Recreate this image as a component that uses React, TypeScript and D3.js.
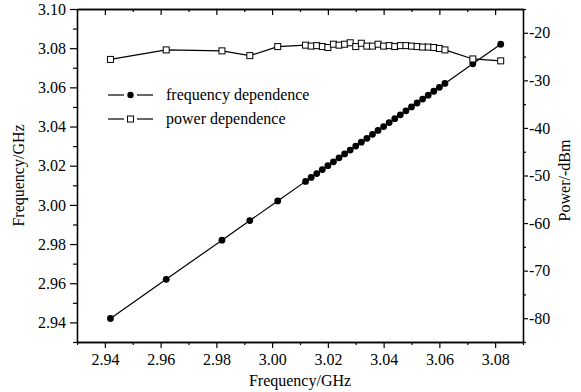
import React, { useRef, useEffect } from 'react';
import * as d3 from 'd3';

// input frequency (GHz) for both measurements
const inputFreq = [
  2.942, 2.962, 2.982, 2.992, 3.002,
  3.012, 3.014, 3.016, 3.018, 3.020, 3.022, 3.024, 3.026, 3.028, 3.030,
  3.032, 3.034, 3.036, 3.038, 3.040, 3.042, 3.044, 3.046, 3.048, 3.050,
  3.052, 3.054, 3.056, 3.058, 3.060, 3.062,
  3.072, 3.082,
];

// output frequency (GHz)
const outputFreq = [
  2.942, 2.962, 2.982, 2.992, 3.002,
  3.012, 3.014, 3.016, 3.018, 3.020, 3.022, 3.024, 3.026, 3.028, 3.030,
  3.032, 3.034, 3.036, 3.038, 3.040, 3.042, 3.044, 3.046, 3.048, 3.050,
  3.052, 3.054, 3.056, 3.058, 3.060, 3.062,
  3.072, 3.082,
];

// output power (dBm)
const outputPower = [
  -25.6, -23.6, -23.8, -24.8, -22.9,
  -22.6, -22.8, -22.7, -22.9, -23.1, -22.4, -22.6, -22.4, -22.1, -22.9,
  -22.2, -22.8, -22.8, -22.4, -22.8, -22.7, -22.9, -22.7, -22.7, -22.8,
  -22.9, -23.0, -23.0, -23.1, -23.3, -23.6,
  -25.5, -25.9,
];

const xTicks = [2.94, 2.96, 2.98, 3.0, 3.02, 3.04, 3.06, 3.08];
const yLeftTicks = [2.94, 2.96, 2.98, 3.0, 3.02, 3.04, 3.06, 3.08, 3.1];
const yRightTicks = [-80, -70, -60, -50, -40, -30, -20];
const legendLabels = ['frequency dependence', 'power dependence'];

const W = 581;
const H = 392;
const margin = { top: 9, right: 58, bottom: 50, left: 77 };
const FONT = '"Liberation Serif", "Times New Roman", serif';

const App: React.FC = () => {
  const svgRef = useRef<SVGSVGElement | null>(null);

  useEffect(() => {
    const svg = d3.select(svgRef.current);
    svg.selectAll('*').remove();

    const iw = W - margin.left - margin.right;
    const ih = H - margin.top - margin.bottom;
    const g = svg.append('g').attr('transform', `translate(${margin.left},${margin.top})`);

    const x = d3.scaleLinear().domain([2.93, 3.09]).range([0, iw]);
    const yL = d3.scaleLinear().domain([2.93, 3.10]).range([ih, 0]);
    const yR = d3.scaleLinear().domain([-85, -15]).range([ih, 0]);

    const xMinor = d3.range(2.93, 3.0901, 0.01).map(v => +v.toFixed(2)).filter(v => !xTicks.some(t => Math.abs(t - v) < 1e-6));
    const yMinor = d3.range(2.93, 3.1001, 0.01).map(v => +v.toFixed(2)).filter(v => !yLeftTicks.some(t => Math.abs(t - v) < 1e-6));
    const rMinor = d3.range(-85, -14, 5).filter(v => !yRightTicks.includes(v));

    const styleAxis = (sel: any) => {
      sel.attr('font-family', FONT).attr('font-size', 16);
      sel.select('.domain').attr('stroke', '#000').attr('stroke-width', 1.3);
      sel.selectAll('.tick line').attr('stroke', '#000').attr('stroke-width', 1.2);
      sel.selectAll('text').style('font-family', FONT).attr('font-size', 16).attr('fill', '#000');
    };

    // bottom
    g.append('g').attr('transform', `translate(0,${ih})`)
      .call(d3.axisBottom(x).tickValues(xTicks).tickSize(6).tickPadding(6).tickSizeOuter(0).tickFormat(d3.format('.2f')))
      .call(styleAxis);
    g.append('g').attr('transform', `translate(0,${ih})`)
      .call(d3.axisBottom(x).tickValues(xMinor).tickSize(3).tickSizeOuter(0).tickFormat(() => ''))
      .call(styleAxis);
    // top (inward)
    g.append('g')
      .call(d3.axisTop(x).tickValues(xTicks).tickSize(-6).tickSizeOuter(0).tickFormat(() => ''))
      .call(styleAxis);
    g.append('g')
      .call(d3.axisTop(x).tickValues(xMinor).tickSize(-3).tickSizeOuter(0).tickFormat(() => ''))
      .call(styleAxis);
    // left
    g.append('g')
      .call(d3.axisLeft(yL).tickValues(yLeftTicks).tickSize(7).tickPadding(4).tickSizeOuter(0).tickFormat(d3.format('.2f')))
      .call(styleAxis);
    g.append('g')
      .call(d3.axisLeft(yL).tickValues(yMinor).tickSize(4).tickSizeOuter(0).tickFormat(() => ''))
      .call(styleAxis);
    // right
    g.append('g').attr('transform', `translate(${iw},0)`)
      .call(d3.axisRight(yR).tickValues(yRightTicks).tickSize(5).tickPadding(1).tickSizeOuter(0).tickFormat(d => String(d)))
      .call(styleAxis);
    g.append('g').attr('transform', `translate(${iw},0)`)
      .call(d3.axisRight(yR).tickValues(rMinor).tickSize(3).tickSizeOuter(0).tickFormat(() => ''))
      .call(styleAxis);

    // axis titles
    svg.append('text')
      .attr('x', margin.left + iw / 2).attr('y', 386)
      .attr('text-anchor', 'middle').attr('font-family', FONT).attr('font-size', 16)
      .text('Frequency/GHz');
    svg.append('text')
      .attr('transform', `translate(24,${margin.top + ih / 2}) rotate(-90)`)
      .attr('text-anchor', 'middle').attr('font-family', FONT).attr('font-size', 16)
      .text('Frequency/GHz');
    svg.append('text')
      .attr('transform', `translate(570,${margin.top + ih / 2 + 5}) rotate(-90)`)
      .attr('text-anchor', 'middle').attr('font-family', FONT).attr('font-size', 16)
      .text('Power/-dBm');

    const freqPts = inputFreq.map((f, i) => [x(f), yL(outputFreq[i])] as [number, number]);
    const powPts = inputFreq.map((f, i) => [x(f), yR(outputPower[i])] as [number, number]);
    const line = d3.line();

    g.append('path').attr('d', line(freqPts)).attr('fill', 'none').attr('stroke', '#000').attr('stroke-width', 1.2);
    g.append('path').attr('d', line(powPts)).attr('fill', 'none').attr('stroke', '#000').attr('stroke-width', 1.2);

    g.selectAll('circle.f').data(freqPts).join('circle')
      .attr('class', 'f').attr('cx', d => d[0]).attr('cy', d => d[1]).attr('r', 3.4).attr('fill', '#000');

    const s = 6;
    g.selectAll('rect.p').data(powPts).join('rect')
      .attr('class', 'p').attr('x', d => d[0] - s / 2).attr('y', d => d[1] - s / 2)
      .attr('width', s).attr('height', s).attr('fill', '#fff').attr('stroke', '#000').attr('stroke-width', 1);

    // legend
    const lg = svg.append('g');
    legendLabels.forEach((label, i) => {
      const ly = 95 + i * 24;
      lg.append('line').attr('x1', 108).attr('x2', 124).attr('y1', ly).attr('y2', ly).attr('stroke', '#000').attr('stroke-width', 1.2);
      lg.append('line').attr('x1', 137).attr('x2', 153).attr('y1', ly).attr('y2', ly).attr('stroke', '#000').attr('stroke-width', 1.2);
      if (i === 0) {
        lg.append('circle').attr('cx', 130.5).attr('cy', ly).attr('r', 3.2).attr('fill', '#000');
      } else {
        lg.append('rect').attr('x', 127.5).attr('y', ly - 3).attr('width', 6).attr('height', 6)
          .attr('fill', '#fff').attr('stroke', '#000').attr('stroke-width', 1);
      }
      lg.append('text').attr('x', 166).attr('y', ly + 5)
        .attr('font-family', FONT).attr('font-size', 16).text(label);
    });
  }, []);

  return (
    <svg ref={svgRef} width={W} height={H} style={{ position: 'absolute', left: 0, top: 0, background: '#fff' }} />
  );
};

export default App;
